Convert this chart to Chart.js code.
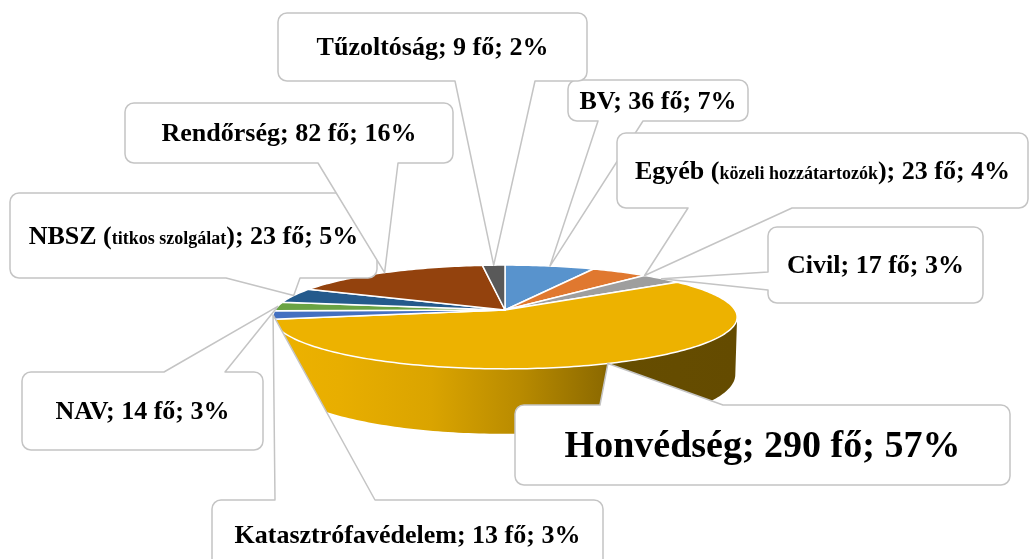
<!DOCTYPE html>
<html>
<head>
<meta charset="utf-8">
<title>Megoszlás</title>
<script src="https://cdn.jsdelivr.net/npm/chart.js@4.4.0/dist/chart.umd.min.js"></script>
<style>
  html, body { margin: 0; padding: 0; background: #fff; }
  canvas { display: block; }
</style>
</head>
<body>
<canvas id="chart" width="1030" height="559"></canvas>
<script>
// adatok (órajárás szerint, felülről)
var categories = ['BV', 'Egyéb', 'Civil', 'Honvédség', 'Katasztrófavédelem', 'NAV', 'NBSZ', 'Rendőrség', 'Tűzoltóság'];
var subNotes = ['', 'közeli hozzátartozók', '', '', '', '', 'titkos szolgálat', '', ''];
var headcount = [36, 23, 17, 290, 13, 14, 23, 82, 9];
var percents = [7, 4, 3, 57, 3, 3, 5, 16, 2];

var sliceColors = ['#5893CD', '#E0782F', '#9E9E9E', '#EDB200', '#4470C1', '#6AA343', '#245A8C', '#93420D', '#595959'];

// callout dobozok: x, y, w, h + melyik oldalon van a csőr
var callouts = [
    { box: [568, 80, 180, 41], side: 'bottom', base: [598, 643], at: 0.5, size: 26 },
    { box: [617, 133, 411, 75], side: 'bottom', base: [688, 792], at: 1.0, size: 26 },
    { box: [768, 227, 215, 76], side: 'left', base: [272, 290], at: 0.5, size: 26 },
    { box: [515, 405, 495, 80], side: 'top', base: [600, 723], at: 0.5, size: 38 },
    { box: [212, 500, 391, 70], side: 'top', base: [275, 375], at: 0.5, size: 26 },
    { box: [22, 372, 241, 78], side: 'top', base: [164, 225], at: 0.5, size: 26 },
    { box: [10, 193, 367, 85], side: 'bottom', base: [226, 300], at: 0.5, size: 26 },
    { box: [125, 103, 328, 60], side: 'bottom', base: [318, 398], at: 0.5, size: 26 },
    { box: [278, 13, 309, 68], side: 'bottom', base: [455, 535], at: 0.5, size: 26 }
];

// 3D nézet
var TILT = 12.8 * Math.PI / 180;
var CAM = 7.245;      // kamera távolság, sugárban
var THICK = 0.255;    // vastagság, sugárban
var SIDE_SHADE = [[0, 1], [0.14, 0.98], [0.34, 0.92], [0.53, 0.78], [0.71, 0.6], [0.75, 0.43], [1, 0.42]];

function project(arc, angle, drop) {
    var sa = Math.sin(TILT), ca = Math.cos(TILT);
    var X = Math.cos(angle), Z = Math.sin(angle), Y = -drop;
    var depth = CAM - Y * sa - Z * ca;
    var sy = Y * ca - Z * sa;
    var f = arc.outerRadius * CAM;
    return { x: arc.x + f * X / depth, y: arc.y - f * sy / depth };
}

function edge(ctx, arc, a1, a2, drop, first) {
    var n = Math.max(2, Math.ceil(Math.abs(a2 - a1) / 0.02));
    for (var i = 0; i <= n; i++) {
        var p = project(arc, a1 + (a2 - a1) * i / n, drop);
        if (i === 0 && first) ctx.moveTo(p.x, p.y);
        else ctx.lineTo(p.x, p.y);
    }
}

function hexToRgb(hex) {
    var n = parseInt(hex.slice(1), 16);
    return [(n >> 16) & 255, (n >> 8) & 255, n & 255];
}

function sideGradient(ctx, arc) {
    var R = arc.outerRadius;
    var g = ctx.createLinearGradient(arc.x - R, 0, arc.x + R, 0);
    var rgb = hexToRgb(arc.options.backgroundColor);
    SIDE_SHADE.forEach(function (s) {
        g.addColorStop(s[0], 'rgb(' + rgb.map(function (v) { return Math.round(v * s[1]); }).join(',') + ')');
    });
    return g;
}

var pie3d = {
    id: 'pie3d',
    beforeDatasetsDraw: function (chart) {
        var ctx = chart.ctx;
        var arcs = chart.getDatasetMeta(0).data;
        var lo = Math.asin(Math.cos(TILT) / CAM), hi = Math.PI - lo;
        ctx.save();
        // oldalfal (csak az elöl látszó rész)
        arcs.forEach(function (arc) {
            var a1 = Math.max(arc.startAngle, lo), a2 = Math.min(arc.endAngle, hi);
            if (a2 <= a1) return;
            ctx.beginPath();
            edge(ctx, arc, a1, a2, 0, true);
            edge(ctx, arc, a2, a1, THICK, false);
            ctx.closePath();
            ctx.fillStyle = sideGradient(ctx, arc);
            ctx.fill();
        });
        // teteje
        arcs.forEach(function (arc) {
            ctx.beginPath();
            ctx.moveTo(arc.x, arc.y);
            edge(ctx, arc, arc.startAngle, arc.endAngle, 0, false);
            ctx.closePath();
            ctx.fillStyle = arc.options.backgroundColor;
            ctx.fill();
            ctx.strokeStyle = '#fff';
            ctx.lineWidth = 1.5;
            ctx.lineJoin = 'round';
            ctx.stroke();
        });
        ctx.restore();
        return false;
    }
};

function calloutPath(ctx, b, side, base, tip, r) {
    var x = b[0], y = b[1], x2 = b[0] + b[2], y2 = b[1] + b[3];
    ctx.moveTo(x + r, y);
    if (side === 'top') { ctx.lineTo(base[0], y); ctx.lineTo(tip.x, tip.y); ctx.lineTo(base[1], y); }
    ctx.lineTo(x2 - r, y);
    ctx.arcTo(x2, y, x2, y + r, r);
    if (side === 'right') { ctx.lineTo(x2, base[0]); ctx.lineTo(tip.x, tip.y); ctx.lineTo(x2, base[1]); }
    ctx.lineTo(x2, y2 - r);
    ctx.arcTo(x2, y2, x2 - r, y2, r);
    if (side === 'bottom') { ctx.lineTo(base[1], y2); ctx.lineTo(tip.x, tip.y); ctx.lineTo(base[0], y2); }
    ctx.lineTo(x + r, y2);
    ctx.arcTo(x, y2, x, y2 - r, r);
    if (side === 'left') { ctx.lineTo(x, base[1]); ctx.lineTo(tip.x, tip.y); ctx.lineTo(x, base[0]); }
    ctx.lineTo(x, y + r);
    ctx.arcTo(x, y, x + r, y, r);
    ctx.closePath();
}

function labelParts(i) {
    var tail = '; ' + headcount[i] + ' fő; ' + percents[i] + '%';
    if (subNotes[i]) {
        return [{ t: categories[i] + ' (', small: false }, { t: subNotes[i], small: true }, { t: ')' + tail, small: false }];
    }
    return [{ t: categories[i] + tail, small: false }];
}

function drawLabel(ctx, i, c) {
    var parts = labelParts(i);
    var big = 'bold ' + c.size + 'px "Liberation Serif", "Times New Roman", serif';
    var small = 'bold ' + Math.round(c.size * 0.7) + 'px "Liberation Serif", "Times New Roman", serif';
    var total = 0;
    parts.forEach(function (p) {
        ctx.font = p.small ? small : big;
        p.w = ctx.measureText(p.t).width;
        total += p.w;
    });
    var b = c.box;
    var x = b[0] + b[2] / 2 - total / 2;
    ctx.fillStyle = '#000';
    ctx.textBaseline = 'alphabetic';
    parts.forEach(function (p) {
        ctx.font = p.small ? small : big;
        ctx.fillText(p.t, x, b[1] + b[3] / 2 + c.size * 0.32);
        x += p.w;
    });
}

var calloutPlugin = {
    id: 'callouts',
    afterDraw: function (chart) {
        var ctx = chart.ctx;
        var arcs = chart.getDatasetMeta(0).data;
        ctx.save();
        callouts.forEach(function (c, i) {
            var arc = arcs[i];
            var tip = project(arc, arc.startAngle + (arc.endAngle - arc.startAngle) * c.at, 0);
            ctx.beginPath();
            calloutPath(ctx, c.box, c.side, c.base, tip, 9);
            ctx.fillStyle = '#fff';
            ctx.fill();
            ctx.strokeStyle = '#C4C4C4';
            ctx.lineWidth = 1.5;
            ctx.lineJoin = 'round';
            ctx.stroke();
            drawLabel(ctx, i, c);
        });
        ctx.restore();
    }
};

new Chart(document.getElementById('chart'), {
    type: 'pie',
    data: {
        labels: categories,
        datasets: [{
            data: headcount,
            backgroundColor: sliceColors,
            borderWidth: 0,
            hoverOffset: 0,
            radius: 230
        }]
    },
    options: {
        responsive: false,
        animation: false,
        layout: { padding: { left: 0, right: 20, top: 61, bottom: 0 } },
        plugins: {
            legend: { display: false },
            tooltip: { enabled: false }
        }
    },
    plugins: [pie3d, calloutPlugin]
});
</script>
</body>
</html>
